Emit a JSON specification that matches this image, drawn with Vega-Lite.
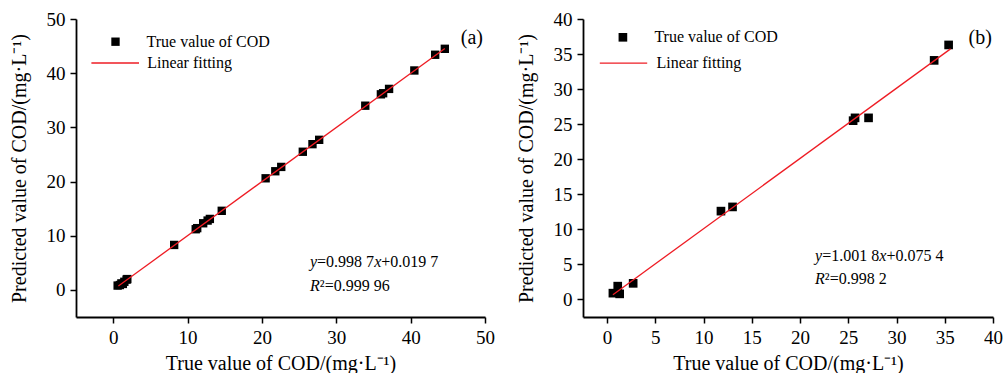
{
  "$schema": "https://vega.github.io/schema/vega-lite/v6.json",
  "background": "white",
  "padding": {"left": 9, "top": 10, "right": 0, "bottom": 0},
  "spacing": 21,
  "config": {
    "font": "Liberation Serif",
    "view": {"stroke": null},
    "axis": {
      "grid": false, "domainColor": "black", "domainWidth": 1.8,
      "tickColor": "black", "tickWidth": 1.5, "tickSize": 6,
      "labelFont": "Liberation Serif", "labelFontSize": 19, "labelColor": "black", "labelPadding": 5, "labelFlush": false,
      "titleFont": "Liberation Serif", "titleFontSize": 20, "titleFontWeight": "normal", "titleColor": "black"
    },
    "axisX": {"titlePadding": 6},
    "axisY": {"titlePadding": 17},
    "legend": {"labelFont": "Liberation Serif", "labelFontSize": 16, "labelColor": "black", "padding": 0, "rowPadding": 0}
  },
  "resolve": {
    "scale": {"fill": "independent", "stroke": "independent"},
    "legend": {"fill": "independent", "stroke": "independent"}
  },
  "hconcat": [
    {
      "width": 409, "height": 298,
      "encoding": {
        "x": {"field": "x", "type": "quantitative", "scale": {"domain": [-5, 50], "nice": false, "zero": false}, "axis": {"values": [0, 10, 20, 30, 40, 50], "title": "True value of COD/(mg·L⁻¹)"}},
        "y": {"field": "y", "type": "quantitative", "scale": {"domain": [-5, 50], "nice": false, "zero": false}, "axis": {"values": [0, 10, 20, 30, 40, 50], "title": "Predicted value of COD/(mg·L⁻¹)"}}
      },
      "layer": [
        {
          "data": {"values": [
            {"x": 0.6, "y": 0.8}, {"x": 0.9, "y": 0.9}, {"x": 1.1, "y": 1.2}, {"x": 1.3, "y": 1.1},
            {"x": 1.5, "y": 1.5}, {"x": 1.8, "y": 1.9}, {"x": 1.9, "y": 2.0},
            {"x": 8.2, "y": 8.3}, {"x": 11.1, "y": 11.2}, {"x": 11.3, "y": 11.4}, {"x": 12.1, "y": 12.3},
            {"x": 12.7, "y": 12.8}, {"x": 13.0, "y": 13.1}, {"x": 14.6, "y": 14.6}, {"x": 20.5, "y": 20.6},
            {"x": 21.8, "y": 21.9}, {"x": 22.6, "y": 22.7}, {"x": 25.5, "y": 25.5}, {"x": 26.8, "y": 26.9},
            {"x": 27.7, "y": 27.7}, {"x": 33.9, "y": 34.0}, {"x": 36.0, "y": 36.1}, {"x": 36.3, "y": 36.3},
            {"x": 37.1, "y": 37.1}, {"x": 40.5, "y": 40.5}, {"x": 43.3, "y": 43.4}, {"x": 44.6, "y": 44.5}
          ]},
          "mark": {"type": "point", "shape": "square", "filled": true, "size": 70, "opacity": 1},
          "encoding": {
            "fill": {"datum": "True value of COD", "scale": {"range": ["black"]},
              "legend": {"orient": "none", "legendX": 31.5, "legendY": 14.7, "symbolType": "square", "symbolSize": 70, "labelOffset": 23, "title": null}}
          }
        },
        {
          "data": {"values": [{"x": 0.7, "y": 0.719}, {"x": 44.6, "y": 44.56}]},
          "mark": {"type": "line", "strokeWidth": 1.3},
          "encoding": {
            "stroke": {"datum": "Linear fitting", "scale": {"range": ["#ee1c24"]},
              "legend": {"orient": "none", "legendX": 14.7, "legendY": 19.5, "symbolType": "stroke", "symbolSize": 2266, "symbolStrokeWidth": 1.3, "labelOffset": 7.5, "title": null}}
          }
        },
        {
          "data": {"values": [{"x": 26.47, "y": 5.22, "t": "y"}, {"x": 35.10, "y": 5.22, "t": "x"}, {"x": 26.47, "y": 0.79, "t": "R"}]},
          "mark": {"type": "text", "align": "left", "baseline": "middle", "fontSize": 16, "fontStyle": "italic", "color": "black"},
          "encoding": {"text": {"field": "t"}}
        },
        {
          "data": {"values": [{"x": 27.42, "y": 5.22, "t": "=0.998 7"}, {"x": 36.06, "y": 5.22, "t": "+0.019 7"}, {"x": 27.79, "y": 0.79, "t": "²=0.999 96"}]},
          "mark": {"type": "text", "align": "left", "baseline": "middle", "fontSize": 16, "color": "black"},
          "encoding": {"text": {"field": "t"}}
        },
        {
          "data": {"values": [{"x": 48.24, "y": 46.5, "t": "(a)"}]},
          "mark": {"type": "text", "align": "center", "baseline": "middle", "fontSize": 20, "color": "black"},
          "encoding": {"text": {"field": "t"}}
        }
      ]
    },
    {
      "width": 410, "height": 298,
      "encoding": {
        "x": {"field": "x", "type": "quantitative", "scale": {"domain": [-2.5, 40], "nice": false, "zero": false}, "axis": {"values": [0, 5, 10, 15, 20, 25, 30, 35, 40], "title": "True value  of COD/(mg·L⁻¹)"}},
        "y": {"field": "y", "type": "quantitative", "scale": {"domain": [-2.5, 40], "nice": false, "zero": false}, "axis": {"values": [0, 5, 10, 15, 20, 25, 30, 35, 40], "title": "Predicted value of COD/(mg·L⁻¹)"}}
      },
      "layer": [
        {
          "data": {"values": [
            {"x": 0.6, "y": 0.9}, {"x": 1.1, "y": 1.9}, {"x": 1.3, "y": 0.8}, {"x": 2.7, "y": 2.3},
            {"x": 11.8, "y": 12.6}, {"x": 13.0, "y": 13.2}, {"x": 25.5, "y": 25.5}, {"x": 25.7, "y": 25.9},
            {"x": 27.1, "y": 25.9}, {"x": 33.9, "y": 34.1}, {"x": 35.4, "y": 36.3}
          ]},
          "mark": {"type": "point", "shape": "square", "filled": true, "size": 75, "opacity": 1},
          "encoding": {
            "fill": {"datum": "True value of COD", "scale": {"range": ["black"]},
              "legend": {"orient": "none", "legendX": 31.9, "legendY": 10.3, "symbolType": "square", "symbolSize": 75, "labelOffset": 23.5, "title": null}}
          }
        },
        {
          "data": {"values": [{"x": 0.6, "y": 0.677}, {"x": 35.6, "y": 35.74}]},
          "mark": {"type": "line", "strokeWidth": 1.3},
          "encoding": {
            "stroke": {"datum": "Linear fitting", "scale": {"range": ["#ee1c24"]},
              "legend": {"orient": "none", "legendX": 16, "legendY": 19.6, "symbolType": "stroke", "symbolSize": 2247, "symbolStrokeWidth": 1.3, "labelOffset": 8.5, "title": null}}
          }
        },
        {
          "data": {"values": [{"x": 21.56, "y": 6.18, "t": "y"}, {"x": 28.21, "y": 6.18, "t": "x"}, {"x": 21.56, "y": 2.85, "t": "R"}]},
          "mark": {"type": "text", "align": "left", "baseline": "middle", "fontSize": 16, "fontStyle": "italic", "color": "black"},
          "encoding": {"text": {"field": "t"}}
        },
        {
          "data": {"values": [{"x": 22.29, "y": 6.18, "t": "=1.001 8"}, {"x": 28.95, "y": 6.18, "t": "+0.075 4"}, {"x": 22.57, "y": 2.85, "t": "²=0.998 2"}]},
          "mark": {"type": "text", "align": "left", "baseline": "middle", "fontSize": 16, "color": "black"},
          "encoding": {"text": {"field": "t"}}
        },
        {
          "data": {"values": [{"x": 38.68, "y": 37.25, "t": "(b)"}]},
          "mark": {"type": "text", "align": "center", "baseline": "middle", "fontSize": 20, "color": "black"},
          "encoding": {"text": {"field": "t"}}
        }
      ]
    }
  ]
}
